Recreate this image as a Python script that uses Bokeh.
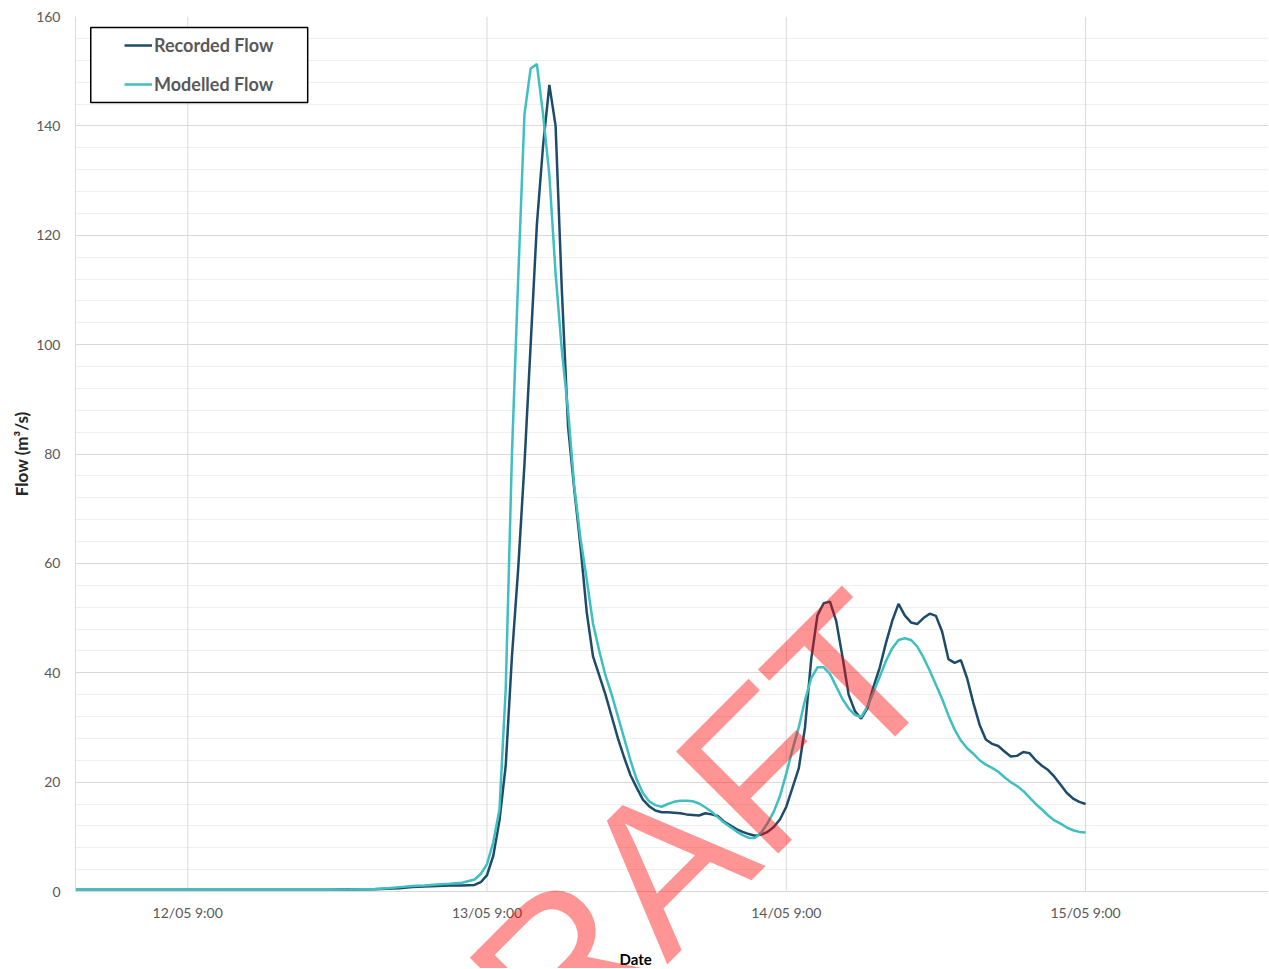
from datetime import datetime, timedelta
from math import pi

from bokeh.plotting import figure
from bokeh.models import (ColumnDataSource, Range1d, FixedTicker, Legend, LegendItem,
                          BoxAnnotation, Label, Title)
from bokeh.core.properties import value
from bokeh.embed import file_html
from bokeh.resources import INLINE

# ---------------- data (hours after 12/05 00:00) ----------------
hours = [0, 2, 4, 6, 8, 10, 12, 14, 16, 18, 20, 22,
         24, 25, 26, 27, 28, 29, 30, 31,
         32, 32.5, 33, 33.5, 34, 34.5, 35, 35.5, 36, 36.5, 37, 37.5, 38, 38.5, 39, 39.5,
         40, 40.5, 41, 41.5, 42, 42.5, 43, 43.5, 44, 44.5, 45, 45.5, 46, 46.5, 47, 47.5,
         48, 48.5, 49, 49.5, 50, 50.5, 51, 51.5, 52, 52.5, 53, 53.5, 54, 54.5, 55, 55.5,
         56, 56.5, 57, 57.5, 58, 58.5, 59, 59.5, 60, 60.5, 61, 61.5, 62, 62.5, 63, 63.5,
         64, 64.5, 65, 65.5, 66, 66.5, 67, 67.5, 68, 68.5, 69, 69.5, 70, 70.5, 71, 71.5,
         72, 72.5, 73, 73.5, 74, 74.5, 75, 75.5, 76, 76.5, 77, 77.5, 78, 78.5, 79, 79.5,
         80, 80.5, 81]

recorded = [0.3, 0.3, 0.3, 0.3, 0.3, 0.3, 0.3, 0.3, 0.3, 0.3, 0.3, 0.35,
            0.4, 0.5, 0.6, 0.8, 0.9, 1.0, 1.1, 1.1,
            1.2, 1.7, 3.0, 6.5, 13, 23, 43, 59, 78, 100, 122, 136.5, 147.5, 140, 110, 85,
            73.5, 63, 51, 43, 39.5, 36, 32, 28, 24.5, 21.3, 19, 16.8, 15.6, 14.8, 14.5, 14.5,
            14.4, 14.3, 14.1, 14.0, 13.9, 14.3, 14.1, 13.8, 12.8, 12.1, 11.4, 10.9, 10.5, 10.2, 10.4, 10.9,
            11.8, 13.2, 15.5, 19, 22.5, 30, 42.5, 50.5, 52.7, 53, 49.5, 43, 36, 33, 31.6, 33.5,
            37.5, 41, 45.5, 49.5, 52.6, 50.5, 49.2, 48.9, 50, 50.8, 50.4, 47.5, 42.5, 41.8, 42.3, 39,
            34.5, 30.5, 27.8, 27, 26.6, 25.6, 24.7, 24.8, 25.5, 25.3, 24, 23, 22.2, 21, 19.5, 18,
            17, 16.4, 16]

modelled = [0.3, 0.3, 0.3, 0.3, 0.3, 0.3, 0.3, 0.3, 0.3, 0.3, 0.3, 0.35,
            0.45, 0.6, 0.8, 1.0, 1.1, 1.3, 1.4, 1.6,
            2.2, 3.2, 5, 9, 15, 37, 80, 112, 142, 150.5, 151.3, 142, 131, 113, 99, 88,
            74, 64.5, 57, 49, 44, 39.5, 36, 32, 28, 24, 20.5, 18, 16.5, 15.8, 15.5, 16,
            16.4, 16.6, 16.6, 16.5, 16.1, 15.4, 14.6, 13.6, 12.6, 11.8, 11, 10.3, 9.8, 9.8, 10.8, 12.5,
            14.6, 17.5, 21.6, 26, 30, 35, 39, 41, 41, 39.8, 37.5, 35.2, 33.5, 32.3, 31.9, 33.8,
            36.5, 39.3, 42.2, 44.5, 46, 46.3, 46, 44.8, 42.8, 40.4, 37.8, 35.2, 32.2, 29.6, 27.6, 26.2,
            25.2, 24, 23.2, 22.6, 21.9, 20.9, 20, 19.3, 18.4, 17.2, 16, 15, 13.9, 13, 12.4, 11.7,
            11.2, 10.9, 10.8]

tick_hours = [9, 33, 57, 81]
tick_labels = ["12/05 9:00", "13/05 9:00", "14/05 9:00", "15/05 9:00"]
y_ticks = [0, 20, 40, 60, 80, 100, 120, 140, 160]
y_minor = [0, 4, 8, 12, 16, 20, 24, 28, 32, 36, 40, 44, 48, 52, 56, 60, 64, 68, 72, 76, 80,
           84, 88, 92, 96, 100, 104, 108, 112, 116, 120, 124, 128, 132, 136, 140, 144, 148,
           152, 156, 160]

START = datetime(2022, 5, 12, 0, 0)
EPOCH = datetime(1970, 1, 1)


def ms(h):
    return (START + timedelta(hours=h) - EPOCH).total_seconds() * 1000.0


src = ColumnDataSource(dict(t=[ms(h) for h in hours], rec=recorded, mod=modelled))
tick_ms = [ms(h) for h in tick_hours]
tick_src = ColumnDataSource(dict(x=tick_ms, y=[0] * len(tick_ms), top=[160] * len(tick_ms),
                                 label=tick_labels))

FONT = "Lato"
REC_COLOR = "#1e4b69"
MOD_COLOR = "#3fbfbf"
GRID = "#d9d9d9"

p = figure(width=1268, height=968, x_axis_type="datetime", x_axis_location=None,
           x_range=Range1d(ms(0), ms(95.67)), y_range=Range1d(-14.08, 160),
           output_backend="svg", toolbar_location=None,
           min_border_left=75, min_border_right=0, min_border_top=16, min_border_bottom=0,
           background_fill_color="white", border_fill_color="white", outline_line_color=None)

# vertical grid lines at the date ticks (plot area only)
p.segment(x0="x", y0="y", x1="x", y1="top", source=tick_src, line_color=GRID, line_width=1)

r1 = p.line("t", "rec", source=src, line_color=REC_COLOR, line_width=2.5)
r2 = p.line("t", "mod", source=src, line_color=MOD_COLOR, line_width=2.5)

# x tick labels below the zero line
p.text(x="x", y="y", text="label", source=tick_src, y_offset=21,
       text_align="center", text_baseline="middle", text_font=value(FONT),
       text_font_size="14px", text_color="#595959")

# y axis
p.yaxis.ticker = FixedTicker(ticks=y_ticks, minor_ticks=y_minor)
p.yaxis.bounds = (0, 160)
p.yaxis.axis_line_color = GRID
p.yaxis.major_tick_line_color = None
p.yaxis.minor_tick_line_color = None
p.yaxis.major_tick_out = 0
p.yaxis.minor_tick_out = 0
p.yaxis.major_label_text_font = FONT
p.yaxis.major_label_text_font_size = "14px"
p.yaxis.major_label_text_color = "#595959"
p.yaxis.major_label_standoff = 15

# y-axis title, centred on the 0-160 plot area
ytitle = Title(text="Flow (m³/s)", align="right", offset=395, standoff=4,
               text_font=FONT, text_font_style="bold", text_font_size="17px",
               text_color="#262626")
p.add_layout(ytitle, "left")

p.ygrid.grid_line_color = GRID
p.ygrid.minor_grid_line_color = "#efefef"
p.xgrid.grid_line_color = None

# legend box + legend
box = BoxAnnotation(left=ms(1.223), right=ms(18.62), top=157.99, bottom=144.27,
                    fill_color="white", fill_alpha=1.0, line_color="black",
                    line_alpha=1.0, line_width=1.5)
p.add_layout(box)

legend = Legend(items=[LegendItem(label="Recorded Flow", renderers=[r1]),
                       LegendItem(label="Modelled Flow", renderers=[r2])],
                location=(49, 873), orientation="vertical",
                padding=0, spacing=17, margin=0,
                glyph_width=28, glyph_height=20, label_height=20, label_standoff=2,
                label_text_font=FONT, label_text_font_style="bold",
                label_text_font_size="18px", label_text_color="#595959",
                border_line_color=None, background_fill_alpha=0.0)
p.add_layout(legend)

# x-axis title
p.add_layout(Label(x=ms(44.92), y=-12.43, text="Date", text_align="center",
                   text_baseline="middle", text_font=FONT, text_font_style="bold",
                   text_font_size="15px", text_color="black"))

# DRAFT watermark
p.add_layout(Label(x=ms(45.96), y=2.0, text="DRAFT", angle=pi / 4,
                   text_align="center", text_baseline="alphabetic",
                   text_font="Liberation Sans", text_font_size="210px",
                   text_color="red", text_alpha=0.42))

open("out.html", "w").write(file_html(p, INLINE))
